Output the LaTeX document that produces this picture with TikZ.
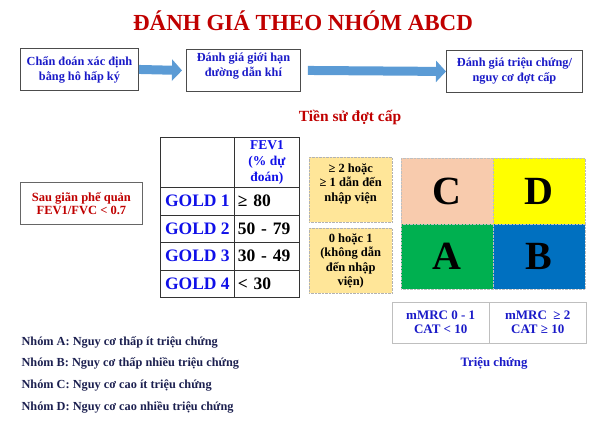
\documentclass[tikz,border=0pt]{standalone}
\usepackage{fontspec}
\setmainfont{Liberation Serif}
\usetikzlibrary{positioning,arrows.meta,calc}

\definecolor{titlered}{HTML}{C00000}
\definecolor{boxblue}{HTML}{1A1AC8}
\definecolor{goldblue}{HTML}{1010E8}
\definecolor{navy}{HTML}{1C2050}
\definecolor{flowblue}{HTML}{5B9BD5}
\definecolor{histfill}{HTML}{FFE699}
\definecolor{cpeach}{HTML}{F8CBAD}
\definecolor{dyellow}{HTML}{FFFF00}
\definecolor{agreen}{HTML}{00B050}
\definecolor{bblue}{HTML}{0070C0}

\begin{document}
\begin{tikzpicture}[x=1pt, y=-1pt,
  box/.style={draw=black!70, line width=0.9pt, fill=white, align=center, anchor=north west,
    font=\bfseries\fontsize{12.3}{15}\selectfont, text=boxblue, inner sep=0pt},
  flow/.style={line width=9pt, draw=flowblue, -{Triangle[length=10pt, width=21pt]}},
  cell/.style={draw=black!80, line width=0.8pt, anchor=north west, inner sep=0pt,
    minimum height=27.5pt},
  goldcell/.style={cell, minimum width=74pt, text=goldblue, font=\bfseries\fontsize{17.5}{20}\selectfont},
  valcell/.style={cell, minimum width=65pt, text width=58pt, align=left,
    font=\bfseries\fontsize{17.5}{20}\selectfont},
  hist/.style={draw=black!30, densely dotted, fill=histfill, anchor=north west, inner sep=0pt,
    minimum width=83pt, minimum height=65pt, align=center, font=\bfseries\fontsize{12.5}{14.5}\selectfont},
  grp/.style={draw=black!25, densely dotted, anchor=north west, inner sep=0pt,
    minimum width=92pt, minimum height=65.5pt, font=\bfseries\fontsize{40}{40}\selectfont},
  sym/.style={draw=black!25, anchor=north west, inner sep=0pt, minimum width=97pt,
    minimum height=41pt, align=center, text=boxblue, font=\bfseries\fontsize{13}{14}\selectfont},
  legend/.style={anchor=west, text=navy, font=\bfseries\fontsize{12.3}{14}\selectfont},
]
\useasboundingbox (0,0) rectangle (600,424);

% ====== Title ======
\node[text=titlered, font=\bfseries\fontsize{23}{26}\selectfont] (title) at (303,21) {ĐÁNH GIÁ THEO NHÓM ABCD};

% ====== Assessment steps ======
\node[box, minimum width=118pt, minimum height=42pt] (diag) at (20,48) {Chẩn đoán xác định\\bằng hô hấp ký};
\node[box, minimum width=114pt, minimum height=42pt] (limit) at (186,49) {};
\node[box, draw=none, fill=none, anchor=center] (limittext) at ([yshift=4pt]limit.center) {Đánh giá giới hạn\\đường dẫn khí};
\node[box, minimum width=136pt, minimum height=42pt] (symp) at (446,50) {Đánh giá triệu chứng/\\nguy cơ đợt cấp};
\draw[flow] (diag.east) -- ([xshift=-4pt]limit.west);
\draw[flow] ([xshift=7pt]limit.east) -- (symp.west);

% ====== Spirometry ======
\node[box, draw=black!60, minimum width=122pt, minimum height=42pt, text=titlered,
  font=\bfseries\fontsize{12.5}{13.5}\selectfont] (post) at (20,182) {Sau giãn phế quản\\FEV1/FVC < 0.7};

% ====== GOLD table ======
\node[cell, minimum width=74pt, minimum height=50pt] (corner) at (160,137) {};
\node[cell, minimum width=65pt, minimum height=50pt, align=center, text=goldblue,
  font=\bfseries\fontsize{13.5}{16}\selectfont] (fev) at (234,137) {FEV1\\(\% dự\\đoán)};
\foreach \g/\v [count=\r from 0] in {1/{≥ 80}, 2/{50 - 79}, 3/{30 - 49}, 4/{< 30}} {
  \node[goldcell] (gold\g) at (160,187+27.5*\r) {GOLD \g};
  \node[valcell] (val\g) at (234,187+27.5*\r) {\v};
}

% ====== Exacerbation history ======
\node[text=titlered, font=\bfseries\fontsize{15.5}{18}\selectfont] (hist) at (350,118) {Tiền sử đợt cấp};
\node[hist] (high) at (309,157) {≥ 2 hoặc\\≥ 1 dẫn đến\\nhập viện\\\mbox{}};
\node[hist] (low) at (309,228) {0 hoặc 1\\(không dẫn\\đến nhập\\viện)};

% ====== ABCD grid ======
\node[grp, fill=cpeach] (C) at (401,158) {C};
\node[grp, fill=dyellow] (D) at (493,158) {D};
\node[grp, fill=agreen] (A) at (401,223.5) {A};
\node[grp, fill=bblue] (B) at (493,223.5) {B};

% ====== Symptoms ======
\node[sym] (mild) at (392,302) {mMRC 0 - 1\\CAT < 10};
\node[sym] (severe) at (489,302) {mMRC \ ≥ 2\\CAT ≥ 10};
\node[text=boxblue, font=\bfseries\fontsize{12.8}{14}\selectfont] (sympt) at (494,363) {Triệu chứng};

% ====== Group legend ======
\foreach \n/\t [count=\k from 0] in {A/{thấp ít}, B/{thấp nhiều}, C/{cao ít}, D/{cao nhiều}}
  \node[legend] (leg\n) at (18,342+21.7*\k) {Nhóm \n: Nguy cơ \t\ triệu chứng};

\end{tikzpicture}
\end{document}
